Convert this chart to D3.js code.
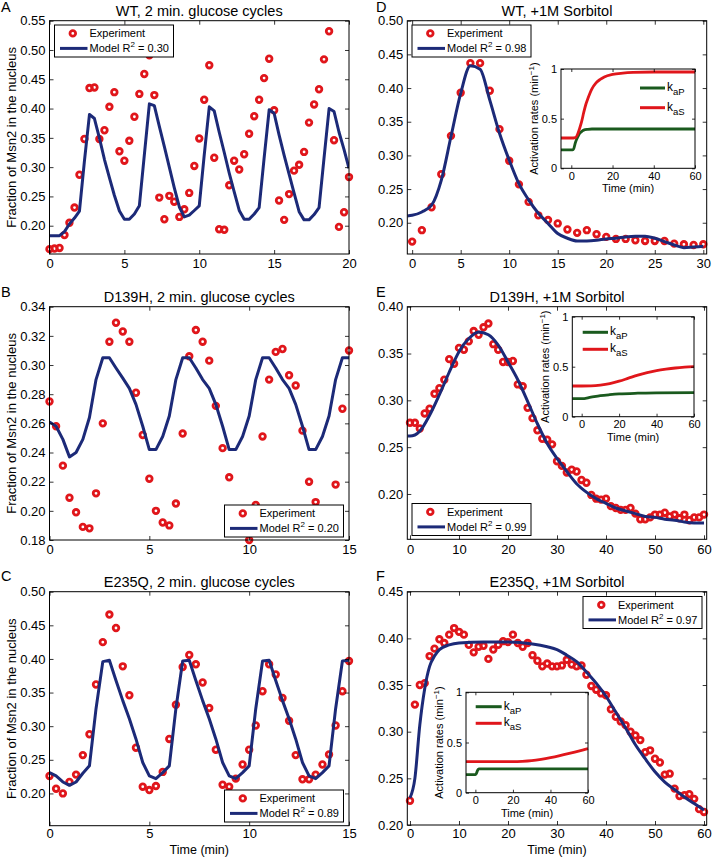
<!DOCTYPE html>
<html>
<head>
<meta charset="utf-8">
<script src="https://cdn.jsdelivr.net/npm/d3@7"></script>
<style>
body { margin: 0; background: #fff; }
svg { font-family: "Liberation Sans", Arial, Helvetica, sans-serif; }
</style>
</head>
<body>
<svg id="fig" width="712" height="857"></svg>
<script>
// ---- time grids ----
let tGlu = [0,0.33,0.67,1,1.33,1.67,2,2.33,2.67,3,3.33,3.67,4,4.33,4.67,5,5.33,5.67,6,6.33,6.67,7,7.33,7.67,8,8.33,8.67,9,9.33,9.67,10,
    10.33,10.67,11,11.33,11.67,12,12.33,12.67,13,13.33,13.67,14,14.33,14.67,15,15.33,15.67,16,16.33,16.67,17,17.33,17.67,18,18.33,18.67,19,19.33,19.67,20]
let tGlu15 = tGlu.slice(0, 46)
let tD = [0,1,2,3,4,5,6,7,8,9,10,11,12,13,14,15,16,17,18,19,20,21,22,23,24,25,26,27,28,29,30]
let t60 = [0,1,2,3,4,5,6,7,8,9,10,11,12,13,14,15,16,17,18,19,20,21,22,23,24,25,26,27,28,29,30,
    31,32,33,34,35,36,37,38,39,40,41,42,43,44,45,46,47,48,49,50,51,52,53,54,55,56,57,58,59,60]

// ---- A: WT, glucose cycles ----
let expA = [0.160,0.161,0.162,0.184,0.205,0.231,0.287,0.348,0.435,0.436,0.348,0.363,0.403,0.428,0.327,0.311,0.345,0.386,0.425,0.459,
    0.491,0.423,0.248,0.211,0.251,0.241,0.215,0.228,0.256,0.302,0.349,0.415,0.474,0.316,0.194,0.193,0.269,0.311,0.296,0.322,
    0.357,0.387,0.415,0.452,0.485,0.397,0.243,0.210,0.254,0.294,0.304,0.326,0.376,0.407,0.433,0.484,0.532,0.346,0.198,0.223,0.283]
let modA = [0.183,0.183,0.183,0.190,0.203,0.213,0.225,0.310,0.390,0.383,0.350,0.313,0.282,0.252,0.225,0.211,0.211,0.220,0.234,0.320,
    0.408,0.405,0.370,0.335,0.300,0.265,0.232,0.215,0.218,0.226,0.234,0.320,0.403,0.396,0.360,0.325,0.290,0.258,0.226,0.211,
    0.211,0.220,0.231,0.315,0.398,0.392,0.355,0.320,0.288,0.256,0.224,0.210,0.210,0.219,0.231,0.315,0.400,0.395,0.360,0.330,0.298]

// ---- B: D139H, glucose cycles ----
let expB = [0.275,0.258,0.231,0.209,0.199,0.189,0.188,0.212,0.260,0.316,0.329,0.323,0.316,0.281,0.252,0.222,0.200,0.192,0.190,0.205,
    0.253,0.306,0.324,0.316,0.303,0.272,0.243,0.223,0.195,0.186,0.180,0.204,0.251,0.290,0.309,0.311,0.293,0.286,0.255,0.220,
    0.206,0.195,0.190,0.218,0.270,0.310]
let modB = [0.261,0.258,0.249,0.237,0.240,0.249,0.264,0.290,0.305,0.305,0.298,0.291,0.284,0.273,0.258,0.242,0.242,0.251,0.265,0.290,
    0.305,0.305,0.298,0.290,0.284,0.273,0.258,0.242,0.242,0.251,0.265,0.290,0.305,0.305,0.298,0.290,0.284,0.273,0.258,0.242,
    0.242,0.251,0.265,0.290,0.305,0.305]

// ---- C: E235Q, glucose cycles ----
let expC = [0.226,0.207,0.200,0.217,0.228,0.257,0.288,0.362,0.425,0.466,0.446,0.389,0.346,0.268,0.210,0.205,0.211,0.232,0.281,0.332,
    0.388,0.406,0.392,0.365,0.327,0.265,0.213,0.210,0.222,0.243,0.265,0.301,0.352,0.392,0.377,0.342,0.308,0.257,0.221,0.221,
    0.228,0.243,0.258,0.301,0.352,0.397]
let modC = [0.231,0.226,0.217,0.212,0.217,0.230,0.241,0.326,0.396,0.398,0.368,0.338,0.311,0.281,0.246,0.226,0.222,0.231,0.241,0.326,
    0.397,0.398,0.368,0.338,0.311,0.281,0.246,0.226,0.222,0.231,0.241,0.326,0.397,0.398,0.368,0.338,0.311,0.281,0.246,0.226,
    0.222,0.231,0.241,0.326,0.397,0.398]

// ---- D: WT, sorbitol ----
let expD = [0.172,0.189,0.223,0.272,0.329,0.393,0.437,0.437,0.396,0.339,0.292,0.257,0.231,0.211,0.204,0.199,0.190,0.185,0.189,0.183,
    0.179,0.176,0.176,0.174,0.173,0.173,0.173,0.169,0.168,0.167,0.168]
let tModD = [-0.5,0,1,2,3,4,5,6,7,8,9,10,11,12,13,14,15,16,17,18,19,20,21,22,23,24,25,26,27,28,29,30]
let modD = [0.210,0.211,0.216,0.226,0.263,0.328,0.392,0.433,0.428,0.382,0.333,0.293,0.258,0.234,0.214,0.199,0.184,0.177,0.173,0.173,
    0.174,0.176,0.177,0.179,0.180,0.180,0.177,0.172,0.167,0.163,0.164,0.165]

// ---- E: D139H, sorbitol ----
let expE = [0.276,0.276,0.270,0.286,0.291,0.307,0.313,0.322,0.344,0.339,0.356,0.354,0.363,0.374,0.370,0.378,0.382,0.360,0.354,0.341,
    0.341,0.342,0.317,0.315,0.292,0.281,0.268,0.259,0.258,0.253,0.235,0.230,0.223,0.226,0.224,0.215,0.212,0.199,0.195,0.194,
    0.195,0.187,0.185,0.183,0.183,0.185,0.179,0.173,0.173,0.175,0.178,0.178,0.180,0.176,0.178,0.174,0.178,0.172,0.175,0.175,0.178]
let tModE = [-0.5,0,1,2,4,6,8,10,12,14,16,18,20,22,24,26,28,30,32,34,36,38,40,42,44,46,48,50,52,54,56,58,60]
let modE = [0.262,0.262,0.263,0.267,0.284,0.306,0.330,0.352,0.366,0.373,0.370,0.359,0.341,0.322,0.299,0.275,0.254,0.238,0.224,0.211,
    0.202,0.195,0.190,0.185,0.182,0.179,0.176,0.175,0.173,0.172,0.170,0.169,0.169]

// ---- F: E235Q, sorbitol ----
let expF = [0.226,0.329,0.350,0.352,0.381,0.389,0.399,0.395,0.404,0.411,0.407,0.404,0.393,0.385,0.391,0.392,0.378,0.388,0.393,0.397,
    0.396,0.404,0.395,0.391,0.395,0.382,0.376,0.370,0.373,0.370,0.370,0.371,0.377,0.372,0.370,0.371,0.361,0.349,0.345,0.341,
    0.339,0.324,0.316,0.311,0.307,0.300,0.296,0.291,0.278,0.280,0.271,0.267,0.254,0.255,0.239,0.231,0.232,0.233,0.228,0.217,0.214]
let tModF = [0,1,2,3,4,5,6,8,10,15,20,25,28,30,32,34,36,38,40,42,44,46,48,50,52,54,56,58,60]
let modF = [0.229,0.250,0.307,0.346,0.370,0.381,0.388,0.393,0.395,0.396,0.396,0.394,0.391,0.388,0.382,0.375,0.364,0.352,0.338,0.321,
    0.304,0.286,0.271,0.257,0.246,0.238,0.230,0.223,0.216]

// ---- insets: activation rates ----
let tDkP = [-5,0,1,2,3,4,5,6,8,10,20,60]
let vDkP = [0.185,0.185,0.19,0.26,0.31,0.35,0.37,0.385,0.393,0.396,0.396,0.396]
let tDkS = [-5,0,2,3,4,5,6,7,8,10,12,14,16,20,25,30,40,60]
let vDkS = [0.305,0.305,0.31,0.34,0.40,0.47,0.56,0.64,0.70,0.80,0.86,0.895,0.92,0.945,0.958,0.965,0.97,0.97]
let tEkP = [-5,0,5,10,15,20,30,40,60]
let vEkP = [0.18,0.18,0.195,0.21,0.22,0.228,0.235,0.238,0.24]
let tEkS = [-5,0,5,10,15,20,25,30,35,40,45,50,55,60]
let vEkS = [0.307,0.307,0.308,0.315,0.33,0.355,0.385,0.415,0.44,0.46,0.475,0.487,0.495,0.50]
let tFkP = [-5,0,0.5,1,1.5,2,60]
let vFkP = [0.18,0.18,0.19,0.215,0.232,0.238,0.238]
let tFkS = [-5,0,10,20,25,30,35,40,45,50,55,60]
let vFkS = [0.31,0.31,0.31,0.31,0.313,0.32,0.333,0.35,0.37,0.392,0.415,0.44]

let RED = "#e0161b", NAVY = "#1c2a78", GREEN = "#1a5a1e"

let svg = d3.select("#fig")

let panels = [
    {id: "A", title: "WT, 2 min. glucose cycles", box: [49.5, 349, 20.7, 254], xd: [0, 20], yd: [0.1517, 0.55],
     xt: [0, 5, 10, 15, 20], yt: [0.20, 0.25, 0.30, 0.35, 0.40, 0.45, 0.50, 0.55],
     tE: tGlu, vE: expA, tM: tGlu, vM: modA, r2: "0.30", leg: [54.5, 25], letter: [1, 12], ylab: true, xlab: false},
    {id: "B", title: "D139H, 2 min. glucose cycles", box: [49.5, 349, 306.7, 540], xd: [0, 15], yd: [0.18, 0.34],
     xt: [0, 5, 10, 15], yt: [0.18, 0.20, 0.22, 0.24, 0.26, 0.28, 0.30, 0.32, 0.34],
     tE: tGlu15, vE: expB, tM: tGlu15, vM: modB, r2: "0.20", leg: [224.5, 505], letter: [1, 297], ylab: true, xlab: false},
    {id: "C", title: "E235Q, 2 min. glucose cycles", box: [49.5, 349, 591.7, 825.7], xd: [0, 15], yd: [0.152, 0.50],
     xt: [0, 5, 10, 15], yt: [0.20, 0.25, 0.30, 0.35, 0.40, 0.45, 0.50],
     tE: tGlu15, vE: expC, tM: tGlu15, vM: modC, r2: "0.89", leg: [224.5, 790], letter: [1, 581], ylab: true, xlab: true},
    {id: "D", title: "WT, +1M Sorbitol", box: [407.3, 706.7, 20.7, 254], xd: [-0.5, 30.35], yd: [0.1536, 0.50],
     xt: [0, 5, 10, 15, 20, 25, 30], yt: [0.20, 0.25, 0.30, 0.35, 0.40, 0.45, 0.50],
     tE: tD, vE: expD, tM: tModD, vM: modD, r2: "0.98", leg: [412, 25], letter: [376, 12], ylab: false, xlab: false,
     inset: {box: [561, 695, 69, 168.3], kP: [tDkP, vDkP], kS: [tDkS, vDkS], leg: [640, 665, 88, 107.7]}},
    {id: "E", title: "D139H, +1M Sorbitol", box: [407.3, 706.7, 306.7, 539.3], xd: [-0.55, 60.55], yd: [0.1516, 0.40],
     xt: [0, 10, 20, 30, 40, 50, 60], yt: [0.20, 0.25, 0.30, 0.35, 0.40],
     tE: t60, vE: expE, tM: tModE, vM: modE, r2: "0.99", leg: [412, 503.5], letter: [376, 297], ylab: false, xlab: false,
     inset: {box: [572.3, 694, 316.7, 416.7], kP: [tEkP, vEkP], kS: [tEkS, vEkS], leg: [582.7, 608, 332.3, 349.3]}},
    {id: "F", title: "E235Q, +1M Sorbitol", box: [407.3, 706.7, 591.7, 825], xd: [-0.55, 60.55], yd: [0.20, 0.45],
     xt: [0, 10, 20, 30, 40, 50, 60], yt: [0.20, 0.25, 0.30, 0.35, 0.40, 0.45],
     tE: t60, vE: expF, tM: tModF, vM: modF, r2: "0.97", leg: [583, 596.5], letter: [376, 581], ylab: false, xlab: true,
     inset: {box: [466, 588, 692.3, 792.7], kP: [tFkP, vFkP], kS: [tFkS, vFkS], leg: [475.7, 501.7, 706.7, 723.3]}}
]

function axisStyle(sel, fs) {
    sel.attr("font-family", null).attr("font-size", fs)
    sel.select(".domain").remove()
    sel.selectAll("line").attr("stroke", "#000").attr("stroke-width", 0.8)
    sel.selectAll("text").attr("fill", "#000")
}

function drawAxes(g, x, y, box, o) {
    let [l, r, t, b] = box
    g.append("g").attr("transform", `translate(0,${b})`)
        .call(d3.axisBottom(x).tickValues(o.xt).tickSize(-o.tl).tickSizeOuter(0).tickPadding(o.xpad).tickFormat(o.xf))
        .call(axisStyle, o.fs)
    g.append("g").attr("transform", `translate(0,${t})`)
        .call(d3.axisTop(x).tickValues(o.xt).tickSize(-o.tl).tickSizeOuter(0).tickFormat(""))
        .call(axisStyle, o.fs)
    g.append("g").attr("transform", `translate(${l},0)`)
        .call(d3.axisLeft(y).tickValues(o.yt).tickSize(-o.tl).tickSizeOuter(0).tickPadding(o.ypad).tickFormat(o.yf))
        .call(axisStyle, o.fs)
    g.append("g").attr("transform", `translate(${r},0)`)
        .call(d3.axisRight(y).tickValues(o.yt).tickSize(-o.tl).tickSizeOuter(0).tickFormat(""))
        .call(axisStyle, o.fs)
    g.append("rect").attr("x", l).attr("y", t).attr("width", r - l).attr("height", b - t)
        .attr("fill", "none").attr("stroke", "#000").attr("stroke-width", 1)
}

function drawLegend(g, p) {
    let [lx, ly] = p.leg
    let lg = g.append("g").attr("font-size", 11)
    lg.append("rect").attr("x", lx).attr("y", ly).attr("width", 119).attr("height", 32)
        .attr("fill", "#fff").attr("stroke", "#000").attr("stroke-width", 1)
    lg.append("circle").attr("cx", lx + 18.3).attr("cy", ly + 8.4).attr("r", 2.8)
        .attr("fill", "none").attr("stroke", RED).attr("stroke-width", 2.8)
    lg.append("text").attr("x", lx + 35).attr("y", ly + 12.3).text("Experiment")
    lg.append("line").attr("x1", lx + 5.5).attr("x2", lx + 33).attr("y1", ly + 23.4).attr("y2", ly + 23.4)
        .attr("stroke", NAVY).attr("stroke-width", 3)
    let tx = lg.append("text").attr("x", lx + 35).attr("y", ly + 27.4)
    tx.append("tspan").text("Model R")
    tx.append("tspan").attr("dy", -5).attr("font-size", 8).text("2")
    tx.append("tspan").attr("dy", 5).text(" = " + p.r2)
}

function drawInset(g, ins) {
    let [l, r, t, b] = ins.box
    let x = d3.scaleLinear().domain([-5, 60]).range([l, r])
    let y = d3.scaleLinear().domain([0, 1]).range([b, t])
    let ig = g.append("g")
    ig.append("rect").attr("x", l).attr("y", t).attr("width", r - l).attr("height", b - t).attr("fill", "#fff")
    let line = d3.line().x(d => x(d[0])).y(d => y(d[1])).curve(d3.curveMonotoneX)
    ig.append("path").datum(d3.zip(ins.kP[0], ins.kP[1])).attr("d", line)
        .attr("fill", "none").attr("stroke", GREEN).attr("stroke-width", 2.8)
    ig.append("path").datum(d3.zip(ins.kS[0], ins.kS[1])).attr("d", line)
        .attr("fill", "none").attr("stroke", RED).attr("stroke-width", 2.8)
    drawAxes(ig, x, y, ins.box, {xt: [0, 20, 40, 60], yt: [0, 0.5, 1], tl: 3, xpad: 4, ypad: 4,
        xf: d3.format("d"), yf: d3.format("~g"), fs: 11})
    // legend
    let [x1, x2, y1, y2] = ins.leg
    let rows = [[GREEN, "aP", y1], [RED, "aS", y2]]
    for (let [c, sub, yy] of rows) {
        ig.append("line").attr("x1", x1).attr("x2", x2).attr("y1", yy).attr("y2", yy)
            .attr("stroke", c).attr("stroke-width", 3)
        let tx = ig.append("text").attr("x", x2 + 2).attr("y", yy + 3).attr("font-size", 12)
        tx.append("tspan").text("k")
        tx.append("tspan").attr("dy", 4).attr("font-size", 9.5).text(sub)
    }
    // labels
    let yl = ig.append("text").attr("font-size", 11).attr("text-anchor", "middle")
        .attr("transform", `translate(${l - 23},${(t + b) / 2}) rotate(-90)`)
    yl.append("tspan").text("Activation rates (min")
    yl.append("tspan").attr("dy", -4).attr("font-size", 8).text("\u22121")
    yl.append("tspan").attr("dy", 4).text(")")
    ig.append("text").attr("font-size", 11).attr("text-anchor", "middle")
        .attr("x", (l + r) / 2).attr("y", b + 24).text("Time (min)")
}

for (let p of panels) {
    let [l, r, t, b] = p.box
    let x = d3.scaleLinear().domain(p.xd).range([l, r])
    let y = d3.scaleLinear().domain(p.yd).range([b, t])
    let g = svg.append("g").attr("id", "panel-" + p.id)

    svg.append("clipPath").attr("id", "clip-" + p.id)
        .append("rect").attr("x", l).attr("y", t).attr("width", r - l).attr("height", b - t)

    // experiment markers
    g.append("g").selectAll("circle").data(d3.zip(p.tE, p.vE)).join("circle")
        .attr("cx", d => x(d[0])).attr("cy", d => y(d[1])).attr("r", 2.8)
        .attr("fill", "none").attr("stroke", RED).attr("stroke-width", 2.8)

    // model line
    let line = d3.line().x(d => x(d[0])).y(d => y(d[1]))
    if (p.inset) line.curve(d3.curveMonotoneX)
    g.append("path").datum(d3.zip(p.tM, p.vM)).attr("d", line)
        .attr("clip-path", `url(#clip-${p.id})`)
        .attr("fill", "none").attr("stroke", NAVY).attr("stroke-width", 3).attr("stroke-linejoin", "round")

    drawAxes(g, x, y, p.box, {xt: p.xt, yt: p.yt, tl: 4, xpad: p.xlab ? 3.5 : 5, ypad: 4,
        xf: d3.format("d"), yf: d3.format(".2f"), fs: 13})

    if (p.inset) drawInset(g, p.inset)
    drawLegend(g, p)

    g.append("text").attr("x", (l + r) / 2).attr("y", t - 4.7).attr("text-anchor", "middle")
        .attr("font-size", 14.5).text(p.title)
    g.append("text").attr("x", p.letter[0]).attr("y", p.letter[1]).attr("font-size", 14.5).text(p.id)
    if (p.ylab) {
        g.append("text").attr("text-anchor", "middle").attr("font-size", 13)
            .attr("transform", `translate(16,${(t + b) / 2}) rotate(-90)`)
            .text("Fraction of Msn2 in the nucleus")
    }
    if (p.xlab) {
        g.append("text").attr("x", (l + r) / 2).attr("y", 854).attr("text-anchor", "middle")
            .attr("font-size", 12.5).text("Time (min)")
    }
}
</script>
</body>
</html>
